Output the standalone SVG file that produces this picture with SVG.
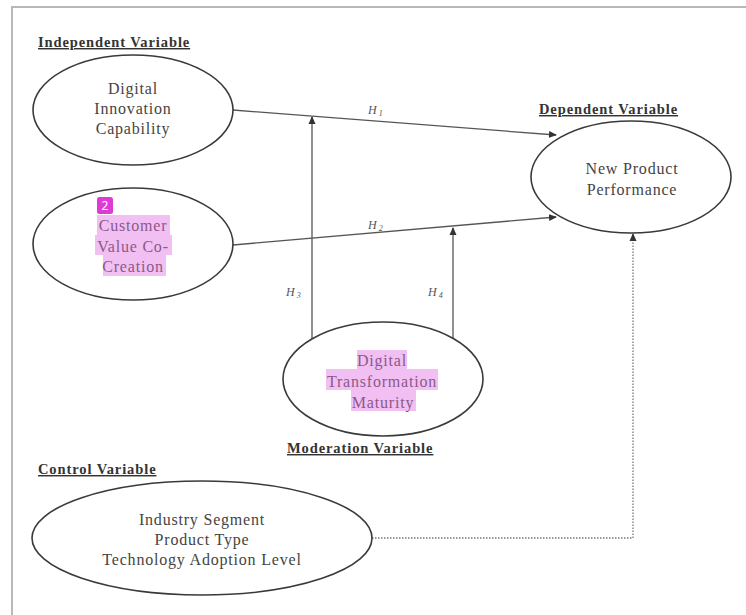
<svg xmlns="http://www.w3.org/2000/svg" width="746" height="615" viewBox="0 0 746 615">
  <defs>
    <style>
      .node ellipse { fill: #ffffff; stroke: #3a3a3a; stroke-width: 1.6; }
      .t { font-family: "Liberation Serif", "Times New Roman", serif; font-size: 16px; fill: #444444; text-anchor: middle; letter-spacing: 0.8px; }
      .hdr { font-family: "Liberation Serif", "Times New Roman", serif; font-size: 14.5px; font-weight: bold; fill: #333333; text-decoration: underline; letter-spacing: 0.9px; }
      .lbl { font-family: "Liberation Serif", "Times New Roman", serif; font-size: 12px; font-style: italic; fill: #555555; }
      .edge { fill: none; stroke: #555555; stroke-width: 1.3; }
      .dot { fill: none; stroke: #777777; stroke-width: 1.3; stroke-dasharray: 1.5 1.5; }
      .hl { fill: #e070e0; opacity: 0.45; }
    </style>
    <marker id="arr" markerWidth="8" markerHeight="8" refX="7" refY="4" orient="auto" markerUnits="userSpaceOnUse">
      <path d="M0,0.5 L8,4 L0,7.5 Z" fill="#333333"/>
    </marker>
  </defs>
  <rect width="746" height="615" fill="#ffffff"/>
  <path d="M12,615 V7 H746" fill="none" stroke="#b8b8b8" stroke-width="2"/>

  <g id="connectors">
    <path class="edge" d="M233,110 L556,135" marker-end="url(#arr)"/>
    <path class="edge" d="M233,245 L556,217" marker-end="url(#arr)"/>
    <path class="edge" d="M312,339 L312,117" marker-end="url(#arr)"/>
    <path class="edge" d="M453,338 L453,228" marker-end="url(#arr)"/>
    <path class="dot" d="M372,538 H633 V234" marker-end="url(#arr)"/>
    <text class="lbl" x="368" y="114">H<tspan font-size="8" dy="2"> 1</tspan></text>
    <text class="lbl" x="368" y="229">H<tspan font-size="8" dy="2"> 2</tspan></text>
    <text class="lbl" x="286" y="296">H<tspan font-size="8" dy="2"> 3</tspan></text>
    <text class="lbl" x="428" y="296">H<tspan font-size="8" dy="2"> 4</tspan></text>
  </g>

  <g id="independent-label">
    <text class="hdr" x="38" y="47">Independent Variable</text>
  </g>
  <g id="node-digital-innovation" class="node">
    <ellipse cx="133" cy="110" rx="100" ry="55"/>
    <text class="t" x="133" y="94">Digital</text>
    <text class="t" x="133" y="114">Innovation</text>
    <text class="t" x="133" y="134">Capability</text>
  </g>
  <g id="node-customer-value" class="node">
    <ellipse cx="133" cy="244" rx="100" ry="56"/>
    <text class="t" x="133" y="231">Customer</text>
    <text class="t" x="133" y="252">Value Co-</text>
    <text class="t" x="133" y="272">Creation</text>
    <rect class="hl" x="97" y="215" width="73" height="20"/>
    <rect class="hl" x="95" y="235" width="77" height="20"/>
    <rect class="hl" x="103" y="255" width="63" height="21"/>
    <rect x="97" y="197" width="16" height="17" rx="2.5" fill="#e03ad6"/>
    <text x="105" y="210" font-family="'Noto Sans', 'DejaVu Sans', sans-serif" font-size="12" fill="#ffffff" text-anchor="middle">2</text>
  </g>

  <g id="dependent-label">
    <text class="hdr" x="539" y="114">Dependent Variable</text>
  </g>
  <g id="node-new-product" class="node">
    <ellipse cx="631" cy="177" rx="100" ry="56"/>
    <text class="t" x="632" y="174">New Product</text>
    <text class="t" x="632" y="195">Performance</text>
  </g>

  <g id="node-dt-maturity" class="node">
    <ellipse cx="383" cy="379" rx="100" ry="57"/>
    <text class="t" x="382" y="366">Digital</text>
    <text class="t" x="382" y="387">Transformation</text>
    <text class="t" x="383" y="408">Maturity</text>
    <rect class="hl" x="357" y="350" width="50" height="19"/>
    <rect class="hl" x="326" y="369" width="112" height="21"/>
    <rect class="hl" x="351" y="390" width="65" height="21"/>
  </g>
  <g id="moderation-label">
    <text class="hdr" x="287" y="453">Moderation Variable</text>
  </g>

  <g id="control-label">
    <text class="hdr" x="38" y="474">Control Variable</text>
  </g>
  <g id="node-control" class="node">
    <ellipse cx="202" cy="538" rx="170" ry="57"/>
    <text class="t" x="202" y="525">Industry Segment</text>
    <text class="t" x="202" y="545">Product Type</text>
    <text class="t" x="202" y="565">Technology Adoption Level</text>
  </g>
</svg>
